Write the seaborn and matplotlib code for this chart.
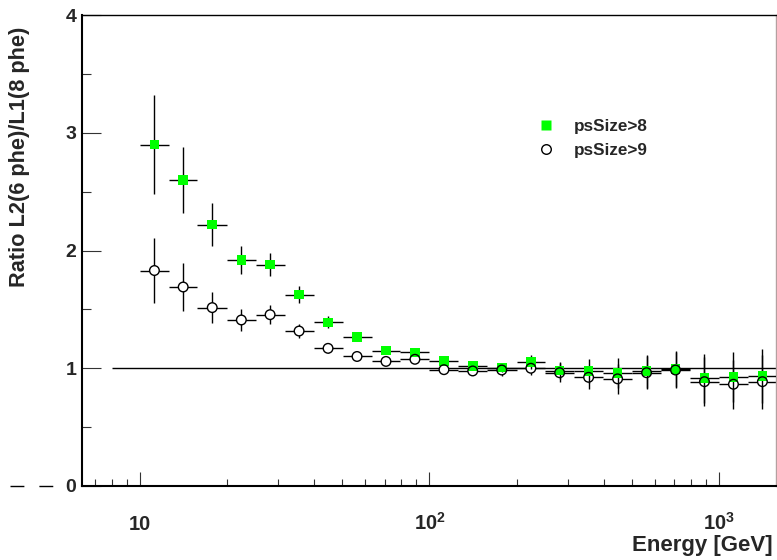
import numpy as np
import pandas as pd
import matplotlib
matplotlib.use("Agg")
import matplotlib.pyplot as plt
import matplotlib.ticker as mticker
from matplotlib.lines import Line2D
import seaborn as sns

# ---------------- data ----------------
bin_edges = [10.0, 12.6, 15.8, 20.0, 25.1, 31.6, 39.8, 50.1, 63.1, 79.4, 100.0,
             126.0, 158.0, 200.0, 251.0, 316.0, 398.0, 501.0, 631.0, 794.0,
             1000.0, 1259.0, 1585.0]
ratio_ps8 = [2.90, 2.60, 2.22, 1.92, 1.88, 1.625, 1.39, 1.265, 1.15, 1.135, 1.06,
             1.02, 1.005, 1.055, 0.98, 0.975, 0.96, 0.975, 0.995, 0.915, 0.925, 0.935]
err_ps8 = [0.42, 0.28, 0.18, 0.12, 0.10, 0.07, 0.05, 0.035, 0.03, 0.03, 0.03,
           0.03, 0.035, 0.06, 0.075, 0.10, 0.13, 0.14, 0.15, 0.21, 0.21, 0.23]
ratio_ps9 = [1.83, 1.69, 1.515, 1.41, 1.455, 1.316, 1.169, 1.10, 1.058, 1.076, 0.988,
             0.977, 0.985, 1.00, 0.962, 0.923, 0.91, 0.962, 0.985, 0.886, 0.864, 0.886]
err_ps9 = [0.28, 0.20, 0.13, 0.09, 0.08, 0.06, 0.04, 0.03, 0.03, 0.03, 0.03,
           0.03, 0.05, 0.06, 0.08, 0.10, 0.13, 0.14, 0.15, 0.21, 0.21, 0.23]
series_labels = ["psSize>8", "psSize>9"]
x_tick_values = [10, 100, 1000]
x_tick_labels = ["10", r"$\mathbf{10^{2}}$", r"$\mathbf{10^{3}}$"]
y_tick_values = [0, 1, 2, 3, 4]
ref_level = 1.0
ref_start = 8.0
x_limits = (6.31, 1574.0)
y_limits = (0.0, 4.0)

# ---------------- derived table ----------------
lo = np.array(bin_edges[:-1])
hi = np.array(bin_edges[1:])
centers = np.sqrt(lo * hi)
df = pd.DataFrame({
    "energy": centers, "lo": lo, "hi": hi,
    "r8": ratio_ps8, "e8": err_ps8,
    "r9": ratio_ps9, "e9": err_ps9,
})

# ---------------- style ----------------
sns.set_theme(style="white")
plt.rcParams["font.family"] = ["Liberation Sans", "DejaVu Sans"]
plt.rcParams["font.weight"] = "bold"
plt.rcParams["mathtext.fontset"] = "custom"
plt.rcParams["mathtext.rm"] = "Liberation Sans:bold"
plt.rcParams["mathtext.bf"] = "Liberation Sans:bold"
plt.rcParams["mathtext.it"] = "Liberation Sans:bold"

W, H = 777, 560
fig = plt.figure(figsize=(W / 100, H / 100), dpi=100)
fig.patch.set_facecolor("white")
ax = fig.add_axes([82 / W, (H - 486) / H, (776 - 82) / W, (486 - 15) / H])
ax.set_facecolor("white")

ax.set_xscale("log")
ax.set_xlim(*x_limits)
ax.set_ylim(*y_limits)

GREEN = "#00ff00"

# reference line
ax.hlines(ref_level, ref_start, x_limits[1] * 1.1, colors="black", linewidth=1.0, zorder=1)

# psSize>9 error bars (below)
ax.errorbar(df["energy"], df["r9"], yerr=df["e9"],
            xerr=[df["energy"] - df["lo"], df["hi"] - df["energy"]],
            fmt="none", ecolor="black", elinewidth=1.0, capsize=0, zorder=2)
# white cores to hide bars inside hollow circles
sns.scatterplot(data=df, x="energy", y="r9", marker="o", s=48, color="white",
                edgecolor="none", linewidth=0, ax=ax, zorder=3, legend=False)
# psSize>8 error bars + squares
ax.errorbar(df["energy"], df["r8"], yerr=df["e8"],
            xerr=[df["energy"] - df["lo"], df["hi"] - df["energy"]],
            fmt="none", ecolor="black", elinewidth=1.0, capsize=0, zorder=4)
sns.scatterplot(data=df, x="energy", y="r8", marker="s", s=48, color=GREEN,
                edgecolor="none", linewidth=0, ax=ax, zorder=5, legend=False)
# hollow circle outlines
sns.scatterplot(data=df, x="energy", y="r9", marker="o", s=48, facecolor="none",
                edgecolor="black", linewidth=1.0, ax=ax, zorder=6, legend=False)

ax.set_xlabel("")
ax.set_ylabel("")

# ---------------- ticks ----------------
ax.xaxis.set_major_locator(mticker.FixedLocator(x_tick_values))
ax.xaxis.set_minor_locator(mticker.LogLocator(base=10, subs=np.arange(2, 10)))
ax.xaxis.set_major_formatter(mticker.NullFormatter())
ax.xaxis.set_minor_formatter(mticker.NullFormatter())
ax.yaxis.set_major_locator(mticker.FixedLocator(y_tick_values))
ax.yaxis.set_minor_locator(mticker.MultipleLocator(0.5))
ax.yaxis.set_major_formatter(mticker.FormatStrFormatter("%d"))

ax.tick_params(axis="x", which="major", direction="in", length=10.3, width=0.8,
               color="#333333", bottom=True, top=False)
ax.tick_params(axis="x", which="minor", direction="in", length=5.0, width=0.8,
               color="#333333", bottom=True, top=False)
ax.tick_params(axis="y", which="major", direction="in", length=13.9, width=0.8,
               color="#333333", left=True, right=False, labelsize=14, pad=4)
ax.tick_params(axis="y", which="minor", direction="in", length=6.7, width=0.8,
               color="#333333", left=True, right=False)
for lbl in ax.get_yticklabels():
    lbl.set_fontweight("bold")

# x tick labels (aligned on a common baseline)
for xv, txt in zip(x_tick_values, x_tick_labels):
    ax.annotate(txt, xy=(xv, 0), xycoords=("data", "axes fraction"),
                xytext=(0, -31.8), textcoords="offset points",
                ha="center", va="baseline", fontsize=14.5, fontweight="bold")

# ---------------- spines ----------------
for side in ["left", "bottom"]:
    ax.spines[side].set_linewidth(1.5)
    ax.spines[side].set_color("black")
ax.spines["top"].set_linewidth(1.0)
ax.spines["top"].set_color("black")
ax.spines["right"].set_linewidth(1.0)
ax.spines["right"].set_color("#b4a0a0")

# ---------------- labels ----------------
ax.set_xlabel("Energy [GeV]", loc="right", fontsize=16.0, fontweight="bold")
ax.xaxis.set_label_coords((773 - 82) / 694, (486 - 535) / 471)
fig.text(20 / W, 1 - 27 / H, "Ratio L2(6 phe)/L1(8 phe)", rotation=90,
         ha="center", va="top", fontsize=15.7, fontweight="bold")

# ---------------- legend ----------------
handles = [
    Line2D([], [], marker="s", linestyle="none", markersize=6.9,
           markerfacecolor=GREEN, markeredgecolor="none"),
    Line2D([], [], marker="o", linestyle="none", markersize=6.9,
           markerfacecolor="white", markeredgecolor="black", markeredgewidth=1.0),
]
leg = ax.legend(handles, series_labels, loc="upper left",
                bbox_to_anchor=((537.6 - 82) / 694, (486 - 119.3) / 471),
                frameon=False, fontsize=12.3, handlelength=1.0, handletextpad=1.1,
                borderpad=0, borderaxespad=0, labelspacing=0.5)
for t in leg.get_texts():
    t.set_fontweight("bold")

# odd dashed stub left of the y axis at y=0
fig.add_artist(Line2D([10 / W, 53 / W], [1 - 486 / H, 1 - 486 / H],
                      transform=fig.transFigure, color="black", linewidth=1.0,
                      linestyle=(0, (10.0, 10.8))))

fig.savefig("out.png", dpi=100, facecolor="white")
